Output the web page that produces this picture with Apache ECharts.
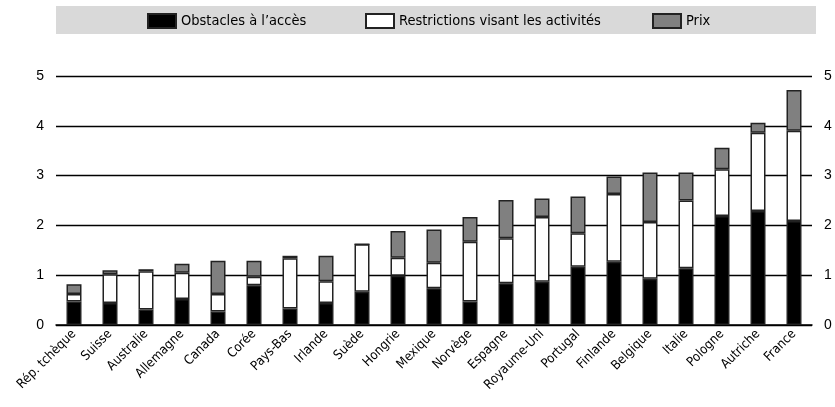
<!DOCTYPE html>
<html><head><meta charset="utf-8">
<script src="https://cdn.jsdelivr.net/npm/echarts@6/dist/echarts.min.js"></script>
<style>html,body{margin:0;padding:0;background:#fff}#c{width:835px;height:407px}</style>
</head><body><div id="c"></div>
<script>
const categories = ['Rép. tchèque','Suisse','Australie','Allemagne','Canada','Corée','Pays-Bas','Irlande','Suède','Hongrie','Mexique','Norvège','Espagne','Royaume-Uni','Portugal','Finlande','Belgique','Italie','Pologne','Autriche','France'];
const obstacles = [0.47,0.44,0.31,0.52,0.27,0.80,0.33,0.44,0.67,0.99,0.74,0.47,0.84,0.87,1.17,1.27,0.93,1.14,2.19,2.29,2.09];
const restrictions = [0.15,0.58,0.77,0.53,0.35,0.17,1.01,0.44,0.95,0.36,0.51,1.20,0.90,1.30,0.67,1.36,1.14,1.36,0.94,1.57,1.81];
const prix = [0.20,0.08,0.04,0.18,0.67,0.32,0.05,0.51,0,0.54,0.67,0.50,0.77,0.37,0.74,0.35,0.99,0.56,0.43,0.20,0.82];
const seriesNames = ['Obstacles à l\u2019accès','Restrictions visant les activités','Prix'];
const yTicks = [0,1,2,3,4,5];

const NARROW = '"DejaVu Sans Condensed", "Liberation Sans Narrow", "Liberation Sans", Arial, sans-serif';
const FONT = '"Liberation Sans", Arial, sans-serif';
const chart = echarts.init(document.getElementById('c'), null, {renderer:'canvas'});
const border = {borderColor:'#222', borderWidth:1.5};
function mk(name, data, color){
  return {name, type:'bar', stack:'t', data, barWidth:15,
    itemStyle:Object.assign({color}, border), emphasis:{disabled:true}};
}
const legendLefts = [147, 365, 652];
chart.setOption({
  animation:false,
  graphic:[{type:'rect', shape:{x:56,y:6,width:760,height:28}, style:{fill:'#d9d9d9'}, z:-1}],
  legend:seriesNames.map((n,i)=>({top:13, left:legendLefts[i], padding:0, itemWidth:28, itemHeight:14, itemGap:5,
    textStyle:{fontFamily:NARROW, fontSize:14.5, color:'#000'},
    data:[{name:n, icon:'rect'}]})),
  grid:{left:56, right:23, top:76, bottom:82},
  xAxis:{type:'category', data:categories,
    axisLine:{lineStyle:{color:'#000', width:1.5}}, axisTick:{show:false},
    axisLabel:{rotate:45, interval:0, fontFamily:NARROW, fontSize:13, color:'#000', margin:7}},
  yAxis:[
    {type:'value', min:0, max:5, interval:1, position:'left',
     axisLine:{show:false}, axisTick:{show:false},
     axisLabel:{fontFamily:FONT, fontSize:14, color:'#000', margin:12,
       formatter:v=>yTicks.includes(v)?String(v):''},
     splitLine:{lineStyle:{color:'#000', width:1.3}}},
    {type:'value', min:0, max:5, interval:1, position:'right',
     axisLine:{show:false}, axisTick:{show:false},
     axisLabel:{fontFamily:FONT, fontSize:14, color:'#000', margin:12,
       formatter:v=>yTicks.includes(v)?String(v):''},
     splitLine:{show:false}}
  ],
  series:[mk(seriesNames[0], obstacles, '#000'), mk(seriesNames[1], restrictions, '#fff'), mk(seriesNames[2], prix, '#808080')]
});
</script></body></html>
